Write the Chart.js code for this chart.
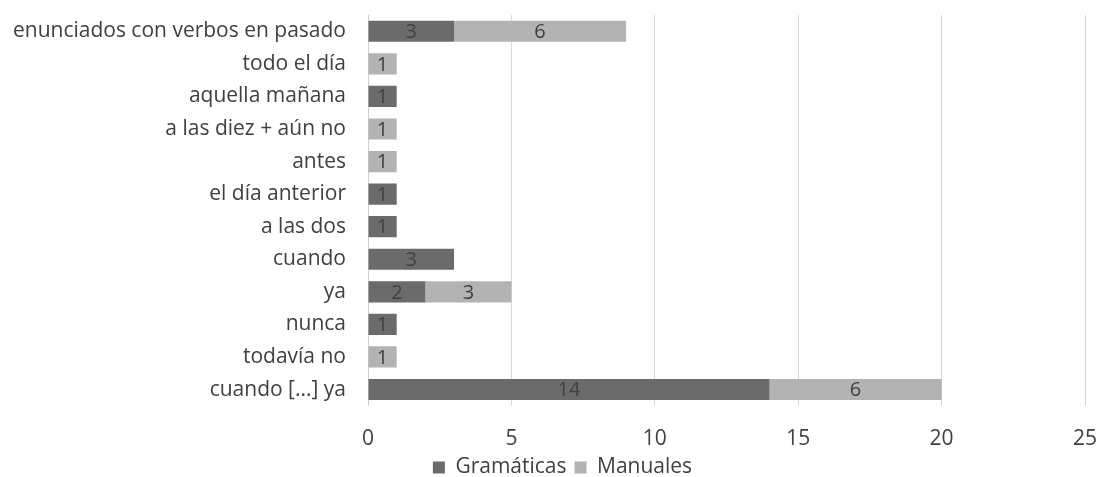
<!DOCTYPE html>
<html>
<head>
<meta charset="utf-8">
<script src="https://cdn.jsdelivr.net/npm/chart.js@4/dist/chart.umd.min.js"></script>
<style>
  html, body { margin: 0; background: #fff; overflow: hidden; height: 477px; }
  canvas { display: block; }
</style>
</head>
<body>
<canvas id="myChart" width="1099" height="488"></canvas>
<script>
 // categorías (de arriba abajo)
 var categorias = ['enunciados con verbos en pasado', 'todo el día', 'aquella mañana', 'a las diez + aún no',
   'antes', 'el día anterior', 'a las dos', 'cuando', 'ya', 'nunca', 'todavía no', 'cuando [...] ya'];
 var gramaticas = [3, 0, 1, 0, 0, 1, 1, 3, 2, 1, 0, 14];
 var manuales = [6, 1, 0, 1, 1, 0, 0, 0, 3, 0, 1, 6];
 var ticksX = [0, 5, 10, 15, 20, 25];

 var fuente = '"Open Sans", sans-serif';
 var gris = '#404040';

 // etiquetas de valor dentro de las barras
 var etiquetas = {
   id: 'etiquetas',
   afterDatasetsDraw: function (chart) {
     var ctx = chart.ctx;
     ctx.save();
     ctx.font = '20px ' + fuente;
     ctx.fillStyle = gris;
     ctx.textAlign = 'center';
     ctx.textBaseline = 'middle';
     chart.data.datasets.forEach(function (ds, i) {
       chart.getDatasetMeta(i).data.forEach(function (bar, j) {
         var v = ds.data[j];
         if (!v) return;
         ctx.fillText(v, (bar.x + bar.base) / 2, bar.y + 1);
       });
     });
     ctx.restore();
   }
 };

 // la leyenda del original está algo más a la derecha
 var moverLeyenda = {
   id: 'moverLeyenda',
   afterLayout: function (chart) {
     if (chart.legend) chart.legend.left += 36;
   }
 };

 var ctx = document.getElementById('myChart').getContext('2d');
 var chart = new Chart(ctx, {
   type: 'bar',
   data: {
     labels: categorias,
     datasets: [{
       label: 'Gramáticas',
       backgroundColor: '#6b6b6b',
       data: gramaticas
     }, {
       label: 'Manuales',
       backgroundColor: '#b3b3b3',
       data: manuales
     }]
   },
   options: {
     indexAxis: 'y',
     responsive: false,
     animation: false,
     layout: { padding: { top: 15, right: 14, left: 4, bottom: 0 } },
     datasets: { bar: { barPercentage: 0.65, categoryPercentage: 1 } },
     scales: {
       x: {
         stacked: true,
         min: 0,
         max: 25,
         afterBuildTicks: function (scale) {
           scale.ticks = ticksX.map(function (v) { return { value: v }; });
         },
         afterFit: function (scale) {
           scale.paddingLeft = 0;
           scale.paddingRight = 0;
           scale.height -= 24;
         },
         grid: { color: '#d9d9d9', lineWidth: 1, drawTicks: false },
         border: { display: false },
         ticks: { color: gris, padding: 21, font: { family: fuente, size: 21 } }
       },
       y: {
         stacked: true,
         grid: { display: false, drawTicks: false },
         border: { display: true, color: '#d0d0d0' },
         ticks: { color: gris, padding: 22, font: { family: fuente, size: 21 } },
         afterFit: function (scale) {
           scale.width = 364;
           scale.paddingTop = 0;
           scale.paddingBottom = 0;
         }
       }
     },
     plugins: {
       legend: {
         position: 'bottom',
         labels: {
           color: gris,
           boxWidth: 12,
           boxHeight: 12,
           padding: 8,
           font: { family: fuente, size: 21 }
         }
       },
       tooltip: { enabled: false }
     }
   },
   plugins: [etiquetas, moverLeyenda]
 });
</script>
</body>
</html>
